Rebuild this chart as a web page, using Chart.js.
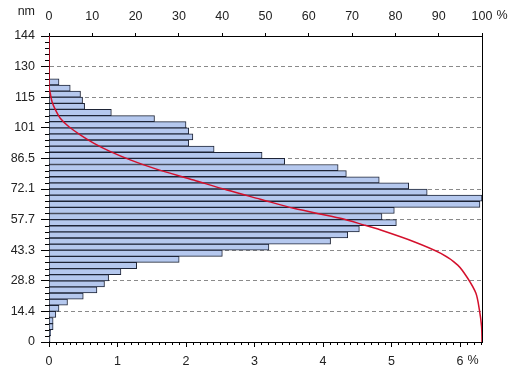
<!DOCTYPE html>
<html>
<head>
<meta charset="utf-8">
<script src="https://cdn.jsdelivr.net/npm/chart.js@4/dist/chart.umd.min.js"></script>
<style>
  body { margin: 0; background: #fff; }
  canvas { display: block; }
</style>
</head>
<body>
<canvas id="size-chart" width="514" height="373"></canvas>
<script>
// Histogram bins (nm, bin centres, bottom to top) and share of particles in each bin (%)
let binCenters = [1.44, 4.32, 7.20, 10.08, 12.96, 15.84, 18.72, 21.60, 24.48, 27.36,
    30.24, 33.12, 36.00, 38.88, 41.76, 44.64, 47.52, 50.40, 53.28, 56.16,
    59.04, 61.92, 64.80, 67.68, 70.56, 73.44, 76.32, 79.20, 82.08, 84.96,
    87.84, 90.72, 93.60, 96.48, 99.36, 102.24, 105.12, 108.00, 110.88, 113.76,
    116.64, 119.52, 122.40]
let binShares = [0.015, 0.025, 0.06, 0.06, 0.10, 0.146, 0.27, 0.50, 0.70, 0.81,
    0.87, 1.05, 1.28, 1.90, 2.53, 3.21, 4.11, 4.36, 4.53, 5.07,
    4.86, 5.04, 6.29, 6.32, 5.52, 5.25, 4.82, 4.34, 4.22, 3.44,
    3.11, 2.41, 2.04, 2.10, 2.04, 2.00, 1.54, 0.91, 0.52, 0.49,
    0.46, 0.31, 0.146]

// Cumulative curve, nm and % on the top axis
let curveNm = [0, 0.9, 7.2, 15.1, 22.9, 30.0, 36.2, 41.7, 47.2, 52.7, 55.1, 58.2,
    62.9, 67.2, 71.5, 76.2, 81.7, 85.6, 89.6, 93.5, 97.4, 101.3, 105.3, 109.2,
    113.1, 117.0, 120.1, 144]
let curvePct = [100, 100, 99.9, 99.4, 98.6, 96.7, 94.4, 90.5, 84.3, 76.6, 72.7, 67.3,
    56.5, 48.8, 41.1, 33.4, 24.3, 18.9, 14.2, 10.4, 7.3, 4.6, 2.6, 1.5,
    0.7, 0.3, 0, 0]

// Axis ticks
let yTickValues = [0, 14.4, 28.8, 43.2, 57.6, 72, 86.4, 100.8, 115.2, 129.6, 144]
let yTickLabels = ['0', '14.4', '28.8', '43.3', '57.7', '72.1', '86.5', '101', '115', '130', '144']
let bottomTicks = [0, 1, 2, 3, 4, 5, 6]
let topTicks = [0, 10, 20, 30, 40, 50, 60, 70, 80, 90, 100]

let fontFamily = '"Liberation Sans", Arial, sans-serif'
let labelFont = {family: fontFamily, size: 12.5}
let labelColor = '#222'

// Minor ticks, right frame line and the unit labels
let extras = {
    id: 'extras',
    afterDraw: function (chart) {
        let c = chart.ctx
        let a = chart.chartArea
        let sx = chart.scales.x
        let sx2 = chart.scales.x2
        let sy = chart.scales.y
        c.save()
        c.strokeStyle = '#000'
        c.lineWidth = 1
        c.beginPath()
        c.moveTo(a.right + 0.5, a.top)
        c.lineTo(a.right + 0.5, a.bottom)
        for (let i = 1; i < 64; i++) {
            if (i % 10 === 0) continue
            let px = Math.round(sx.getPixelForValue(i / 10)) + 0.5
            c.moveTo(px, a.bottom)
            c.lineTo(px, a.bottom + 3)
        }
        for (let i = 1; i < 50; i++) {
            if (i % 5 === 0) continue
            let py = Math.round(sy.getPixelForValue(i * 2.88)) + 0.5
            c.moveTo(a.left, py)
            c.lineTo(a.left - 4, py)
        }
        c.stroke()

        c.fillStyle = labelColor
        c.font = '12.5px ' + fontFamily
        c.textBaseline = 'middle'
        c.textAlign = 'right'
        c.fillText('nm', 35, 12)
        c.textAlign = 'left'
        let w100 = c.measureText('100').width
        c.fillText('%', sx2.getPixelForValue(100) + w100 / 2 + 4, 16)
        let w6 = c.measureText('6').width
        c.fillText('%', sx.getPixelForValue(6) + w6 / 2 + 4, 361)
        c.restore()
    }
}

let canvas = document.querySelector('#size-chart')
let cxt = canvas.getContext('2d')

let chart = new Chart(cxt, {
    type: 'bar',
    data: {
        datasets: [
            {
                type: 'line',
                data: curveNm.map(function (nm, i) { return {x: curvePct[i], y: nm} }),
                xAxisID: 'x2',
                yAxisID: 'y',
                borderColor: '#d4102c',
                borderWidth: 1.5,
                pointRadius: 0,
                tension: 0.3,
                fill: false,
                order: 0
            },
            {
                type: 'bar',
                data: binCenters.map(function (nm, i) { return {x: binShares[i], y: nm} }),
                xAxisID: 'x',
                yAxisID: 'y',
                backgroundColor: '#b5c8ee',
                borderColor: '#1e2436',
                borderWidth: 1,
                borderSkipped: 'left',
                barPercentage: 1,
                categoryPercentage: 1,
                order: 1
            }
        ]
    },
    options: {
        indexAxis: 'y',
        responsive: false,
        animation: false,
        layout: {padding: {left: 0, right: 32, top: 0, bottom: 0}},
        plugins: {legend: {display: false}, tooltip: {enabled: false}},
        scales: {
            y: {
                type: 'linear',
                position: 'left',
                min: 0,
                max: 144,
                offset: false,
                afterBuildTicks: function (s) { s.ticks = yTickValues.map(function (v) { return {value: v} }) },
                afterFit: function (s) { s.width = 49 },
                ticks: {
                    callback: function (v, i) { return yTickLabels[i] },
                    font: labelFont, color: labelColor, padding: 6, autoSkip: false
                },
                grid: {offset: false, color: '#8a8a8a', tickColor: '#000', tickLength: 8, lineWidth: 1},
                border: {color: '#000', dash: [4, 3]}
            },
            x: {
                type: 'linear',
                position: 'bottom',
                min: 0,
                max: 6.32,
                afterBuildTicks: function (s) { s.ticks = bottomTicks.map(function (v) { return {value: v} }) },
                afterFit: function (s) { s.height = 31 },
                ticks: {font: labelFont, color: labelColor, padding: 7, maxRotation: 0, autoSkip: false},
                grid: {drawOnChartArea: false, tickColor: '#000', tickLength: 5},
                border: {color: '#000'}
            },
            x2: {
                type: 'linear',
                position: 'top',
                min: 0,
                max: 100,
                afterBuildTicks: function (s) { s.ticks = topTicks.map(function (v) { return {value: v} }) },
                afterFit: function (s) { s.height = 36 },
                ticks: {font: labelFont, color: labelColor, padding: 9, maxRotation: 0, autoSkip: false},
                grid: {drawOnChartArea: false, tickColor: '#000', tickLength: 3},
                border: {color: '#000'}
            }
        }
    },
    plugins: [extras]
})
</script>
</body>
</html>
